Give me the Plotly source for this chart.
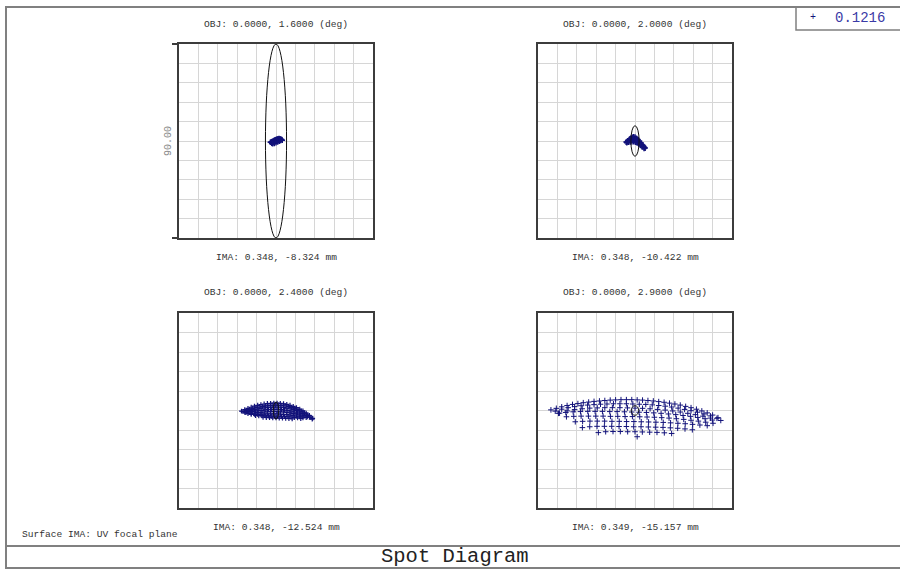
import plotly.graph_objects as go

# ---------------- data ----------------
field_deg = ["1.6000", "2.0000", "2.4000", "2.9000"]
ima_x_mm = ["0.348", "0.348", "0.348", "0.349"]
ima_y_mm = ["-8.324", "-10.422", "-12.524", "-15.157"]
wavelength_um = "0.1216"
scale_bar_um = 90.00
surface_label = "Surface IMA: UV focal plane"
plot_title = "Spot Diagram"

# Airy ellipse semi-axes (micron) per field
airy_rx = [4.9, 1.9, 1.25, 1.75]
airy_ry = [45.0, 7.1, 3.9, 2.2]

# Field 1 (1.6 deg) spot, microns
f1_x = [-2.6, -2.2, -1.8, -1.4, -1.0, -0.6, -0.2, 0.2, 0.6, 1.0, 1.4, 1.8, 2.2, 2.6, 2.9,
        -2.0, -1.4, -0.8, -0.2, 0.4, 1.0, 1.6, 2.2, -1.6, -0.8, 0.0, 0.8, 1.6]
f1_y = [-0.6, -0.4, -0.2, 0.0, 0.2, 0.4, 0.6, 0.8, 0.9, 1.0, 1.1, 1.0, 0.9, 0.7, 0.4,
        -1.0, -0.8, -0.5, -0.2, 0.1, 0.3, 0.4, 0.3, -1.3, -1.1, -0.8, -0.4, -0.1]

# Field 2 (2.0 deg) spot, microns
f2_x = [-4.1, -3.4, -2.7, -2.0, -1.3, -0.7, 0.0, 0.7, 1.4, 2.1, 2.8, 3.5, 4.1, 4.7,
        -3.6, -2.8, -2.0, -1.2, -0.4, 0.4, 1.2, 2.0, 2.8, 3.6, 4.4,
        -3.8, -3.0, -2.2, -1.4, -0.6, 0.2, 1.0, 1.8, 2.6, 3.4, 4.2,
        -1.6, -0.8, 0.0, -2.4, 0.8]
f2_y = [-0.5, 0.1, 0.7, 1.2, 1.7, 2.0, 1.8, 1.3, 0.6, -0.1, -0.9, -1.8, -2.6, -3.3,
        -0.4, 0.1, 0.5, 0.8, 1.0, 0.6, 0.0, -0.7, -1.5, -2.3, -3.0,
        -0.8, -0.6, -0.4, -0.3, -0.3, -0.5, -0.9, -1.5, -2.1, -2.8, -3.5,
        1.3, 1.5, 1.2, 0.9, 0.7]

# Field 3 (2.4 deg) spot, microns (rows of pupil samples)
f3_r1_x = [-16, -14.5, -13, -11.5, -10, -8.5, -7, -5.5, -4, -2.5, -1, 0.5, 2, 3.5, 5, 6.5, 8, 9.5, 11, 12.5, 14, 15.5, 17]
f3_r1_y = [-0.3, 0.4, 1.0, 1.5, 2.0, 2.4, 2.7, 3.0, 3.2, 3.3, 3.4, 3.4, 3.3, 3.1, 2.8, 2.4, 1.9, 1.3, 0.6, -0.2, -1.2, -2.3, -3.6]
f3_r2_x = [-15.3, -13.8, -12.3, -10.8, -9.3, -7.8, -6.3, -4.8, -3.3, -1.8, -0.3, 1.2, 2.7, 4.2, 5.7, 7.2, 8.7, 10.2, 11.7, 13.2, 14.7, 16.2]
f3_r2_y = [-0.5, 0.0, 0.5, 0.9, 1.3, 1.6, 1.9, 2.1, 2.3, 2.4, 2.5, 2.4, 2.3, 2.1, 1.8, 1.4, 0.9, 0.4, -0.3, -1.1, -2.0, -3.1]
f3_r3_x = [-14.5, -13, -11.5, -10, -8.5, -7, -5.5, -4, -2.5, -1, 0.5, 2, 3.5, 5, 6.5, 8, 9.5, 11, 12.5, 14, 15.5, 16.8]
f3_r3_y = [-0.8, -0.4, 0.0, 0.4, 0.7, 1.0, 1.2, 1.4, 1.5, 1.6, 1.6, 1.5, 1.3, 1.1, 0.8, 0.4, -0.1, -0.7, -1.4, -2.2, -3.1, -4.0]
f3_r4_x = [-14, -12.5, -11, -9.5, -8, -6.5, -5, -3.5, -2, -0.5, 1, 2.5, 4, 5.5, 7, 8.5, 10, 11.5, 13, 14.5]
f3_r4_y = [-1.0, -0.8, -0.5, -0.3, -0.1, 0.1, 0.3, 0.4, 0.5, 0.5, 0.5, 0.4, 0.2, 0.0, -0.3, -0.7, -1.1, -1.6, -2.2, -2.9]
f3_r5_x = [-13, -11.5, -10, -8.5, -7, -5.5, -4, -2.5, -1, 0.5, 2, 3.5, 5, 6.5, 8, 9.5, 11, 12.5, 14]
f3_r5_y = [-1.4, -1.3, -1.2, -1.0, -0.9, -0.7, -0.6, -0.5, -0.5, -0.5, -0.6, -0.7, -0.9, -1.1, -1.4, -1.7, -2.1, -2.6, -3.2]
f3_r6_x = [-11.5, -10, -8.5, -7, -5.5, -4, -2.5, -1, 0.5, 2, 3.5, 5, 6.5, 8, 9.5, 11, 12.5]
f3_r6_y = [-1.8, -1.8, -1.8, -1.7, -1.7, -1.6, -1.6, -1.6, -1.6, -1.7, -1.8, -1.9, -2.1, -2.3, -2.6, -2.9, -3.4]
f3_r7_x = [-9.5, -8, -6.5, -5, -3.5, -2, -0.5, 1, 2.5, 4, 5.5, 7, 8.5, 10, 11.5]
f3_r7_y = [-2.3, -2.4, -2.4, -2.5, -2.5, -2.6, -2.6, -2.6, -2.7, -2.8, -2.9, -3.0, -3.2, -3.4, -3.7]
f3_r8_x = [-6, -4.5, -3, -1.5, 0, 1.5, 3, 4.5, 6, 7.5]
f3_r8_y = [-3.1, -3.2, -3.3, -3.4, -3.4, -3.5, -3.5, -3.6, -3.7, -3.8]

# Field 4 (2.9 deg) spot, microns (rows of pupil samples)
f4_r1_x = [-39, -36.5, -34, -31.5, -29, -26.5, -24, -21.5, -19, -16.5, -14, -11.5, -9, -6.5, -4, -1.5,
           1, 3.5, 6, 8.5, 11, 13.5, 16, 18.5, 21, 23.5, 26, 28.5, 31, 33.5, 36, 38.5]
f4_r1_y = [0.3, 1.0, 1.7, 2.3, 2.8, 3.2, 3.6, 3.9, 4.2, 4.4, 4.6, 4.8, 4.9, 5.0, 5.0, 5.0,
           4.9, 4.8, 4.6, 4.4, 4.1, 3.8, 3.4, 3.0, 2.5, 1.9, 1.3, 0.6, -0.2, -1.1, -2.1, -3.3]
f4_r2_x = [-37, -34, -31, -28, -25, -22, -19, -16, -13, -10, -7, -4, -1, 2, 5, 8, 11, 14, 17, 20,
           23, 26, 29, 32, 35, 38, 39.8]
f4_r2_y = [-0.3, 0.6, 1.3, 1.8, 2.2, 2.5, 2.7, 2.9, 3.0, 3.1, 3.1, 3.1, 3.0, 2.9, 2.8, 2.6, 2.3, 2.0, 1.6, 1.1,
           0.5, -0.1, -0.8, -1.6, -2.5, -3.6, -4.6]
f4_r3_x = [-35, -31.5, -28, -24.5, -21, -17.5, -14, -10.5, -7, -3.5, 0, 3.5, 7, 10.5, 14, 17.5, 21, 24.5, 28, 31.5, 35]
f4_r3_y = [-1.2, -0.2, 0.4, 0.8, 1.1, 1.2, 1.3, 1.3, 1.3, 1.2, 1.1, 1.0, 0.8, 0.5, 0.2, -0.2, -0.7, -1.3, -1.9, -2.6, -3.5]
f4_r4_x = [-35.5, -32.1, -28.7, -25.3, -21.9, -18.5, -15.1, -11.7, -8.3, -4.9, -1.5, 1.9, 5.3, 8.7, 12.1,
           15.5, 18.9, 22.3, 25.7, 29.1, 32.5, 35.9]
f4_r4_y = [-1.3, -0.9, -0.6, -0.5, -0.4, -0.4, -0.4, -0.5, -0.5, -0.6, -0.7, -0.8, -0.9, -1.1, -1.3,
           -1.6, -1.9, -2.3, -2.7, -3.2, -3.8, -4.4]
f4_r5_x = [-31.8, -28.4, -25, -21.6, -18.2, -14.8, -11.4, -8, -4.6, -1.2, 2.2, 5.6, 9, 12.4, 15.8,
           19.2, 22.6, 26, 29.4, 32.8, 36.2]
f4_r5_y = [-2.9, -2.7, -2.6, -2.6, -2.6, -2.6, -2.7, -2.7, -2.8, -2.8, -2.9, -3.0, -3.1, -3.3, -3.5,
           -3.8, -4.1, -4.5, -4.9, -5.4, -5.9]
f4_r6_x = [-27.7, -24.3, -20.9, -17.5, -14.1, -10.7, -7.3, -3.9, -0.5, 2.9, 6.3, 9.7, 13.1, 16.5,
           19.9, 23.3, 26.7, 30.1, 33.5]
f4_r6_y = [-5.2, -5.0, -4.9, -4.9, -4.9, -5.0, -5.0, -5.1, -5.1, -5.2, -5.3, -5.4, -5.5, -5.7,
           -5.9, -6.1, -6.4, -6.7, -7.0]
f4_r7_x = [-24.4, -21, -17.6, -14.2, -10.8, -7.4, -4, -0.6, 2.8, 6.2, 9.6, 13, 16.4, 19.8, 23.2, 26.6]
f4_r7_y = [-7.9, -7.5, -7.3, -7.3, -7.3, -7.4, -7.4, -7.5, -7.5, -7.6, -7.7, -7.8, -8.0, -8.2, -8.5, -8.9]
f4_r8_x = [-17, -13.6, -10.2, -6.8, -3.4, 0, 3.4, 6.8, 10.2, 13.6, 17]
f4_r8_y = [-10.2, -9.8, -9.7, -9.7, -9.8, -9.8, -9.9, -10.0, -10.1, -10.3, -10.6]
f4_r9_x = [1.0]
f4_r9_y = [-12.1]

# ---------------- assemble ----------------
spots_x = [
    f1_x,
    f2_x,
    f3_r1_x + f3_r2_x + f3_r3_x + f3_r4_x + f3_r5_x + f3_r6_x + f3_r7_x + f3_r8_x,
    f4_r1_x + f4_r2_x + f4_r3_x + f4_r4_x + f4_r5_x + f4_r6_x + f4_r7_x + f4_r8_x + f4_r9_x,
]
spots_y = [
    f1_y,
    f2_y,
    f3_r1_y + f3_r2_y + f3_r3_y + f3_r4_y + f3_r5_y + f3_r6_y + f3_r7_y + f3_r8_y,
    f4_r1_y + f4_r2_y + f4_r3_y + f4_r4_y + f4_r5_y + f4_r6_y + f4_r7_y + f4_r8_y + f4_r9_y,
]

W, H = 900, 569
NAVY = "#12127a"
MONO = "Liberation Mono, DejaVu Sans Mono, monospace"
GRID = "#d6d6d6"
BOX = "#3c3c3c"
FRAME = "#808080"

# panel boxes in pixels (left, top, right, bottom)
panels_px = [(179, 44, 373, 238), (538, 44, 732, 238), (179, 313, 373, 508), (538, 313, 732, 508)]

def px_x(v):
    return v / W

def px_y(v):
    return 1 - v / H

half = scale_bar_um / 2
step = scale_bar_um / 10

fig = go.Figure()
layout = dict(
    width=W, height=H,
    margin=dict(l=0, r=0, t=0, b=0),
    paper_bgcolor="white", plot_bgcolor="white",
    showlegend=False,
    shapes=[], annotations=[],
)

marker_sizes = [4, 4, 3.5, 4]
marker_widths = [1.5, 1.5, 1.2, 1]

for i, (l, t, r, b) in enumerate(panels_px):
    n = "" if i == 0 else str(i + 1)
    xa = dict(
        domain=[px_x(l), px_x(r)], range=[-half, half], anchor="y" + n,
        tickmode="linear", tick0=-half, dtick=step,
        showgrid=True, gridcolor=GRID, gridwidth=1, zeroline=False,
        showline=True, linecolor=BOX, linewidth=2, mirror=True,
        showticklabels=False, ticks="", fixedrange=True,
    )
    ya = dict(
        domain=[px_y(b), px_y(t)], range=[-half, half], anchor="x" + n,
        tickmode="linear", tick0=-half, dtick=step,
        showgrid=True, gridcolor=GRID, gridwidth=1, zeroline=False,
        showline=True, linecolor=BOX, linewidth=2, mirror=True,
        showticklabels=False, ticks="", fixedrange=True,
    )
    if i == 0:
        ya.update(
            tickmode="array", tickvals=[-half, half], ticks="outside", ticklen=5,
            tickcolor=BOX, tickwidth=2, showgrid=False,
            minor=dict(tickmode="linear", tick0=-half, dtick=step, showgrid=True,
                       gridcolor=GRID, gridwidth=1, ticks=""),
        )
    layout["xaxis" + n] = xa
    layout["yaxis" + n] = ya

    fig.add_trace(go.Scatter(
        x=spots_x[i], y=spots_y[i], mode="markers",
        xaxis="x" + n, yaxis="y" + n, name=wavelength_um,
        marker=dict(symbol="cross-thin", size=marker_sizes[i],
                    color=NAVY, line=dict(width=marker_widths[i], color=NAVY)),
        hoverinfo="skip",
    ))
    # Airy ellipse
    layout["shapes"].append(dict(
        type="circle", xref="x" + n, yref="y" + n,
        x0=-airy_rx[i], x1=airy_rx[i], y0=-airy_ry[i], y1=airy_ry[i],
        line=dict(color="#111111", width=1), layer="above",
    ))
    cx = (l + r) / 2
    layout["annotations"].append(dict(
        text=f"OBJ: 0.0000, {field_deg[i]} (deg)", x=px_x(cx), y=px_y(t - 20),
        xref="paper", yref="paper", showarrow=False, xanchor="center", yanchor="middle",
        font=dict(family=MONO, size=9.6, color="#333333"),
    ))
    layout["annotations"].append(dict(
        text=f"IMA: {ima_x_mm[i]}, {ima_y_mm[i]} mm", x=px_x(cx), y=px_y(b + 19),
        xref="paper", yref="paper", showarrow=False, xanchor="center", yanchor="middle",
        font=dict(family=MONO, size=9.6, color="#333333"),
    ))

# scale bar label
layout["annotations"].append(dict(
    text=f"{scale_bar_um:.2f}", x=px_x(168), y=px_y(141), textangle=-90,
    xref="paper", yref="paper", showarrow=False, xanchor="center", yanchor="middle",
    font=dict(family=MONO, size=10, color="#8a8a8a"),
))
# surface label
layout["annotations"].append(dict(
    text=surface_label, x=px_x(20), y=px_y(534),
    xref="paper", yref="paper", showarrow=False, xanchor="left", yanchor="middle",
    font=dict(family=MONO, size=9.6, color="#333333"),
))
# title band
layout["annotations"].append(dict(
    text=plot_title, x=px_x(455), y=px_y(556),
    xref="paper", yref="paper", showarrow=False, xanchor="center", yanchor="middle",
    font=dict(family=MONO, size=20.5, color="#222222"),
))
# legend (wavelength)
layout["annotations"].append(dict(
    text="+", x=px_x(813), y=px_y(18),
    xref="paper", yref="paper", showarrow=False, xanchor="center", yanchor="middle",
    font=dict(family=MONO, size=10, color=NAVY),
))
layout["annotations"].append(dict(
    text=wavelength_um, x=px_x(860), y=px_y(18),
    xref="paper", yref="paper", showarrow=False, xanchor="center", yanchor="middle",
    font=dict(family=MONO, size=14, color="#3a3aa6"),
))

# frames
layout["shapes"] += [
    dict(type="rect", xref="paper", yref="paper", x0=px_x(6), x1=px_x(903), y0=px_y(568), y1=px_y(7),
         line=dict(color=FRAME, width=2), layer="below"),
    dict(type="line", xref="paper", yref="paper", x0=px_x(6), x1=px_x(903), y0=px_y(546), y1=px_y(546),
         line=dict(color=FRAME, width=2)),
    dict(type="rect", xref="paper", yref="paper", x0=px_x(796), x1=px_x(903), y0=px_y(30), y1=px_y(7),
         line=dict(color=FRAME, width=1.5)),
]

fig.update_layout(**layout)
fig.write_html(
    "out.html",
    config={"displayModeBar": False},
    post_script="document.body.style.margin='0';document.body.style.overflow='hidden';",
)
